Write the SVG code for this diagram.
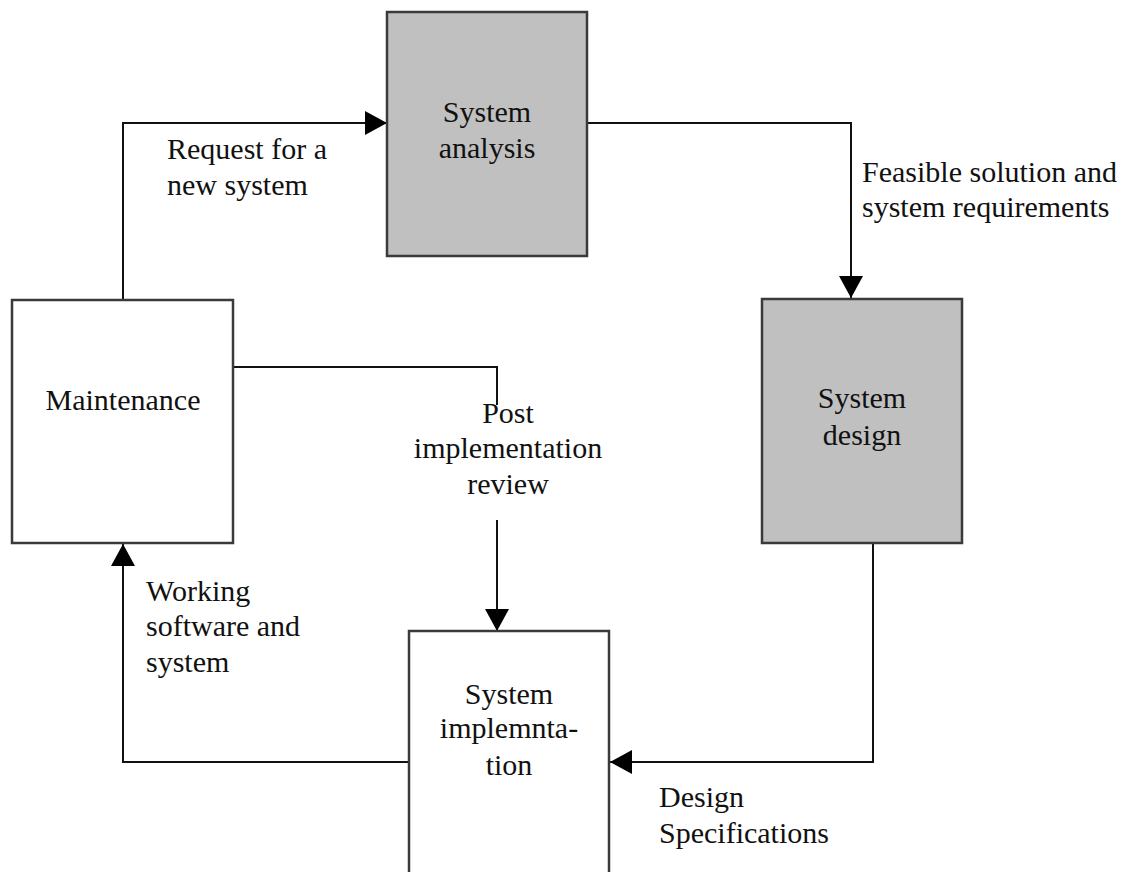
<svg xmlns="http://www.w3.org/2000/svg" width="1134" height="872" viewBox="0 0 1134 872">
  <style>
    .box { stroke: #3a3a3a; stroke-width: 2.5; }
    .gray { fill: #c0c0c0; }
    .white { fill: #ffffff; }
    .conn { fill: none; stroke: #111111; stroke-width: 2; }
    text { font-family: "Liberation Serif", "Times New Roman", serif; font-size: 30px; fill: #111111; }
    .c { text-anchor: middle; }
  </style>
  <defs>
    <marker id="arrow" markerUnits="userSpaceOnUse" markerWidth="23" markerHeight="24" refX="22" refY="12" orient="auto">
      <path d="M0,0 L22,12 L0,24 Z" fill="#000000"/>
    </marker>
  </defs>
  <rect x="0" y="0" width="1134" height="872" fill="#ffffff"/>

  <g id="connectors">
    <path class="conn" d="M123,300 V123 H387" marker-end="url(#arrow)"/>
    <path class="conn" d="M587,123 H851 V298" marker-end="url(#arrow)"/>
    <path class="conn" d="M873,543 V762 H610" marker-end="url(#arrow)"/>
    <path class="conn" d="M409,762 H123 V544" marker-end="url(#arrow)"/>
    <path class="conn" d="M233,367 H497 V405 M497,520 V631" marker-end="url(#arrow)"/>
  </g>

  <g id="system-analysis">
    <rect class="box gray" x="387" y="12" width="200" height="244"/>
    <text class="c" x="487" y="122">System</text>
    <text class="c" x="487" y="158">analysis</text>
  </g>

  <g id="system-design">
    <rect class="box gray" x="762" y="299" width="200" height="244"/>
    <text class="c" x="862" y="408">System</text>
    <text class="c" x="862" y="445">design</text>
  </g>

  <g id="maintenance">
    <rect class="box white" x="12" y="300" width="221" height="243"/>
    <text class="c" x="123" y="410">Maintenance</text>
  </g>

  <g id="system-implementation">
    <rect class="box white" x="409" y="631" width="200" height="260"/>
    <text class="c" x="509" y="704">System</text>
    <text class="c" x="509" y="738">implemnta-</text>
    <text class="c" x="509" y="775">tion</text>
  </g>

  <g id="labels">
    <text x="167" y="159">Request for a</text>
    <text x="167" y="195">new system</text>
    <text x="862" y="182">Feasible solution and</text>
    <text x="862" y="217">system requirements</text>
    <text class="c" x="508" y="423">Post</text>
    <text class="c" x="508" y="458">implementation</text>
    <text class="c" x="508" y="494">review</text>
    <text x="146" y="601">Working</text>
    <text x="146" y="636">software and</text>
    <text x="146" y="672">system</text>
    <text x="659" y="807">Design</text>
    <text x="659" y="843">Specifications</text>
  </g>
</svg>
